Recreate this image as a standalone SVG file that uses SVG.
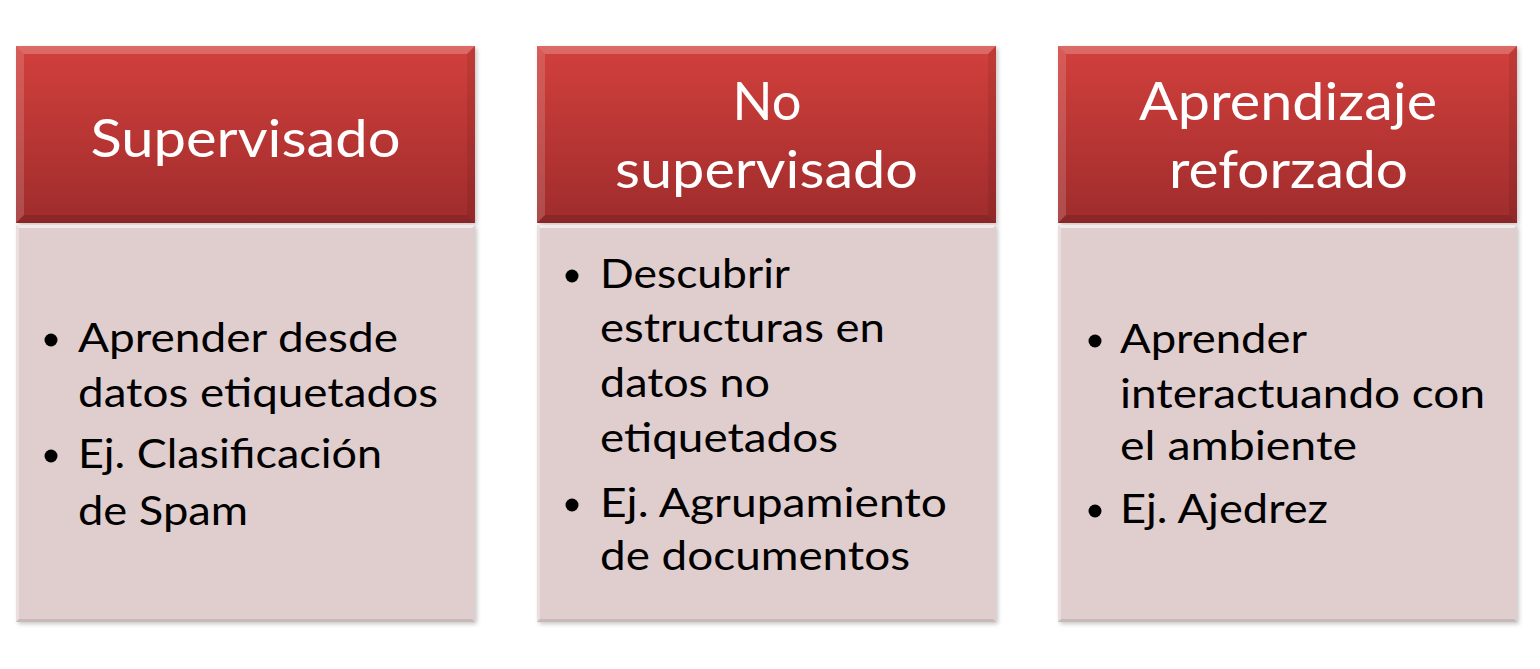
<svg xmlns="http://www.w3.org/2000/svg" width="1540" height="669" viewBox="0 0 1540 669">
<defs>
<linearGradient id="hdr" x1="0" y1="0" x2="0" y2="1">
<stop offset="0" stop-color="#d2403c"/>
<stop offset="1" stop-color="#9f2c2c"/>
</linearGradient>
<filter id="sh" x="-5%" y="-5%" width="110%" height="110%">
<feGaussianBlur stdDeviation="2"/>
</filter>
<style>
.shadow{fill:#9a9a9a;opacity:0.55;filter:url(#sh)}
.hdr{fill:url(#hdr)}
.body{fill:#e0cdcd}
.bevT{fill:#ffffff;opacity:0.22}
.bevL{fill:#ffffff;opacity:0.15}
.bevR{fill:#000000;opacity:0.08}
.bevB{fill:#000000;opacity:0.12}
.bbevT{fill:#ffffff;opacity:0.6}
.bbevL{fill:#ffffff;opacity:0.35}
.bbevB{fill:#000000;opacity:0.10}
.ht{font-family:Lato,"Open Sans",sans-serif;font-size:52px;fill:#ffffff;text-anchor:middle}
.bt{font-family:Lato,"Open Sans",sans-serif;font-size:41px;fill:#000000}
.dot{fill:#000000}
</style>
</defs>
<rect width="1540" height="669" fill="#ffffff"/>

<g id="col-supervisado">
<g id="hdr-supervisado">
<rect class="shadow" x="18" y="48" width="459" height="177"/>
<rect class="hdr" x="16" y="46" width="459" height="177"/>
<polygon class="bevT" points="16,46 475,46 467,54 24,54"/>
<polygon class="bevL" points="16,46 24,54 24,215 16,223"/>
<polygon class="bevR" points="475,46 475,223 467,215 467,54"/>
<polygon class="bevB" points="16,223 24,215 467,215 475,223"/>
<text class="ht" x="245.5" y="157" textLength="310" lengthAdjust="spacingAndGlyphs">Supervisado</text>
</g>
<g id="body-supervisado">
<rect class="shadow" x="18" y="227" width="459" height="397"/>
<rect class="body" x="16" y="225" width="459" height="397"/>
<polygon class="bbevT" points="16,225 475,225 472,228 19,228"/>
<polygon class="bbevL" points="16,225 19,228 19,619 16,622"/>
<polygon class="bbevB" points="16,622 19,619 472,619 475,622"/>
<circle class="dot" cx="51" cy="340" r="6.5"/>
<circle class="dot" cx="51" cy="456" r="6.5"/>
<text class="bt" x="78" y="352" textLength="320" lengthAdjust="spacingAndGlyphs">Aprender desde</text>
<text class="bt" x="78" y="407" textLength="360" lengthAdjust="spacingAndGlyphs">datos etiquetados</text>
<text class="bt" x="78" y="468" textLength="304" lengthAdjust="spacingAndGlyphs">Ej. Clasificación</text>
<text class="bt" x="78" y="525" textLength="170" lengthAdjust="spacingAndGlyphs">de Spam</text>
</g>
</g>

<g id="col-no-supervisado">
<g id="hdr-no-supervisado">
<rect class="shadow" x="539" y="48" width="459" height="177"/>
<rect class="hdr" x="537" y="46" width="459" height="177"/>
<polygon class="bevT" points="537,46 996,46 988,54 545,54"/>
<polygon class="bevL" points="537,46 545,54 545,215 537,223"/>
<polygon class="bevR" points="996,46 996,223 988,215 988,54"/>
<polygon class="bevB" points="537,223 545,215 988,215 996,223"/>
<text class="ht" x="767" y="120" textLength="69" lengthAdjust="spacingAndGlyphs">No</text>
<text class="ht" x="766.5" y="188" textLength="303" lengthAdjust="spacingAndGlyphs">supervisado</text>
</g>
<g id="body-no-supervisado">
<rect class="shadow" x="539" y="227" width="459" height="397"/>
<rect class="body" x="537" y="225" width="459" height="397"/>
<polygon class="bbevT" points="537,225 996,225 993,228 540,228"/>
<polygon class="bbevL" points="537,225 540,228 540,619 537,622"/>
<polygon class="bbevB" points="537,622 540,619 993,619 996,622"/>
<circle class="dot" cx="572" cy="276" r="6.5"/>
<circle class="dot" cx="572" cy="505" r="6.5"/>
<text class="bt" x="600" y="288" textLength="190" lengthAdjust="spacingAndGlyphs">Descubrir</text>
<text class="bt" x="600" y="342" textLength="285" lengthAdjust="spacingAndGlyphs">estructuras en</text>
<text class="bt" x="600" y="397" textLength="170" lengthAdjust="spacingAndGlyphs">datos no</text>
<text class="bt" x="600" y="452" textLength="238" lengthAdjust="spacingAndGlyphs">etiquetados</text>
<text class="bt" x="600" y="517" textLength="347" lengthAdjust="spacingAndGlyphs">Ej. Agrupamiento</text>
<text class="bt" x="600" y="570" textLength="310" lengthAdjust="spacingAndGlyphs">de documentos</text>
</g>
</g>

<g id="col-reforzado">
<g id="hdr-reforzado">
<rect class="shadow" x="1060" y="48" width="459" height="177"/>
<rect class="hdr" x="1058" y="46" width="459" height="177"/>
<polygon class="bevT" points="1058,46 1517,46 1509,54 1066,54"/>
<polygon class="bevL" points="1058,46 1066,54 1066,215 1058,223"/>
<polygon class="bevR" points="1517,46 1517,223 1509,215 1509,54"/>
<polygon class="bevB" points="1058,223 1066,215 1509,215 1517,223"/>
<text class="ht" x="1288" y="120" textLength="298" lengthAdjust="spacingAndGlyphs">Aprendizaje</text>
<text class="ht" x="1288.5" y="188" textLength="239" lengthAdjust="spacingAndGlyphs">reforzado</text>
</g>
<g id="body-reforzado">
<rect class="shadow" x="1060" y="227" width="459" height="397"/>
<rect class="body" x="1058" y="225" width="459" height="397"/>
<polygon class="bbevT" points="1058,225 1517,225 1514,228 1061,228"/>
<polygon class="bbevL" points="1058,225 1061,228 1061,619 1058,622"/>
<polygon class="bbevB" points="1058,622 1061,619 1514,619 1517,622"/>
<circle class="dot" cx="1095" cy="341" r="6.5"/>
<circle class="dot" cx="1095" cy="511" r="6.5"/>
<text class="bt" x="1120" y="353" textLength="187" lengthAdjust="spacingAndGlyphs">Aprender</text>
<text class="bt" x="1120" y="408" textLength="365" lengthAdjust="spacingAndGlyphs">interactuando con</text>
<text class="bt" x="1120" y="460" textLength="237" lengthAdjust="spacingAndGlyphs">el ambiente</text>
<text class="bt" x="1120" y="523" textLength="208" lengthAdjust="spacingAndGlyphs">Ej. Ajedrez</text>
</g>
</g>

<g id="connectors"/>
</svg>
